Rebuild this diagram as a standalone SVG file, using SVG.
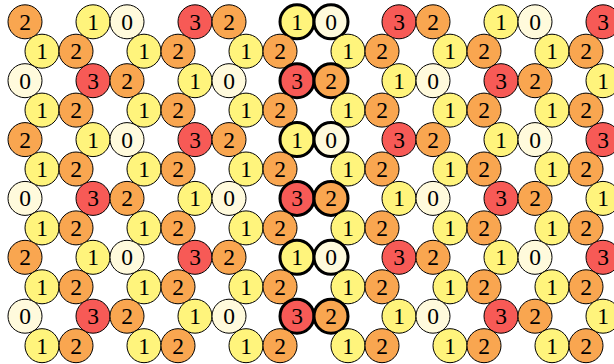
<svg xmlns="http://www.w3.org/2000/svg" width="614" height="364" viewBox="0 0 614 364">
<style>
circle{stroke:#000;stroke-width:1}
.b circle{stroke-width:3}
text{font-family:"Liberation Serif","DejaVu Serif",serif;font-size:23.5px;text-anchor:middle;fill:#000}
.c0 circle{fill:#fffadc}
.c1 circle{fill:#fff47c}
.c2 circle{fill:#f9a650}
.c3 circle{fill:#f75a56}
</style>
<rect width="614" height="364" fill="#fff"/>
<g id="connectors"></g>
<g id="nodes">
<!-- row 0 -->
<g id="n0_25" class="c2" transform="translate(25,21.8)"><circle r="17"/><text y="8">2</text></g>
<g id="n0_93" class="c1" transform="translate(93,21.8)"><circle r="17"/><text y="8">1</text></g>
<g id="n0_127" class="c0" transform="translate(127,21.8)"><circle r="17"/><text y="8">0</text></g>
<g id="n0_195" class="c3" transform="translate(195,21.8)"><circle r="17"/><text y="8">3</text></g>
<g id="n0_229" class="c2" transform="translate(229,21.8)"><circle r="17"/><text y="8">2</text></g>
<g id="n0_297" class="c1 b" transform="translate(297,21.8)"><circle r="17"/><text y="8">1</text></g>
<g id="n0_331" class="c0 b" transform="translate(331,21.8)"><circle r="17"/><text y="8">0</text></g>
<g id="n0_399" class="c3" transform="translate(399,21.8)"><circle r="17"/><text y="8">3</text></g>
<g id="n0_433" class="c2" transform="translate(433,21.8)"><circle r="17"/><text y="8">2</text></g>
<g id="n0_501" class="c1" transform="translate(501,21.8)"><circle r="17"/><text y="8">1</text></g>
<g id="n0_535" class="c0" transform="translate(535,21.8)"><circle r="17"/><text y="8">0</text></g>
<g id="n0_603" class="c3" transform="translate(603,21.8)"><circle r="17"/><text y="8">3</text></g>
<!-- row 1 -->
<g id="n1_42" class="c1" transform="translate(42,51.2)"><circle r="17"/><text y="8">1</text></g>
<g id="n1_76" class="c2" transform="translate(76,51.2)"><circle r="17"/><text y="8">2</text></g>
<g id="n1_144" class="c1" transform="translate(144,51.2)"><circle r="17"/><text y="8">1</text></g>
<g id="n1_178" class="c2" transform="translate(178,51.2)"><circle r="17"/><text y="8">2</text></g>
<g id="n1_246" class="c1" transform="translate(246,51.2)"><circle r="17"/><text y="8">1</text></g>
<g id="n1_280" class="c2" transform="translate(280,51.2)"><circle r="17"/><text y="8">2</text></g>
<g id="n1_348" class="c1" transform="translate(348,51.2)"><circle r="17"/><text y="8">1</text></g>
<g id="n1_382" class="c2" transform="translate(382,51.2)"><circle r="17"/><text y="8">2</text></g>
<g id="n1_450" class="c1" transform="translate(450,51.2)"><circle r="17"/><text y="8">1</text></g>
<g id="n1_484" class="c2" transform="translate(484,51.2)"><circle r="17"/><text y="8">2</text></g>
<g id="n1_552" class="c1" transform="translate(552,51.2)"><circle r="17"/><text y="8">1</text></g>
<g id="n1_586" class="c2" transform="translate(586,51.2)"><circle r="17"/><text y="8">2</text></g>
<!-- row 2 -->
<g id="n2_25" class="c0" transform="translate(25,80.7)"><circle r="17"/><text y="8">0</text></g>
<g id="n2_93" class="c3" transform="translate(93,80.7)"><circle r="17"/><text y="8">3</text></g>
<g id="n2_127" class="c2" transform="translate(127,80.7)"><circle r="17"/><text y="8">2</text></g>
<g id="n2_195" class="c1" transform="translate(195,80.7)"><circle r="17"/><text y="8">1</text></g>
<g id="n2_229" class="c0" transform="translate(229,80.7)"><circle r="17"/><text y="8">0</text></g>
<g id="n2_297" class="c3 b" transform="translate(297,80.7)"><circle r="17"/><text y="8">3</text></g>
<g id="n2_331" class="c2 b" transform="translate(331,80.7)"><circle r="17"/><text y="8">2</text></g>
<g id="n2_399" class="c1" transform="translate(399,80.7)"><circle r="17"/><text y="8">1</text></g>
<g id="n2_433" class="c0" transform="translate(433,80.7)"><circle r="17"/><text y="8">0</text></g>
<g id="n2_501" class="c3" transform="translate(501,80.7)"><circle r="17"/><text y="8">3</text></g>
<g id="n2_535" class="c2" transform="translate(535,80.7)"><circle r="17"/><text y="8">2</text></g>
<g id="n2_603" class="c1" transform="translate(603,80.7)"><circle r="17"/><text y="8">1</text></g>
<!-- row 3 -->
<g id="n3_42" class="c1" transform="translate(42,110.1)"><circle r="17"/><text y="8">1</text></g>
<g id="n3_76" class="c2" transform="translate(76,110.1)"><circle r="17"/><text y="8">2</text></g>
<g id="n3_144" class="c1" transform="translate(144,110.1)"><circle r="17"/><text y="8">1</text></g>
<g id="n3_178" class="c2" transform="translate(178,110.1)"><circle r="17"/><text y="8">2</text></g>
<g id="n3_246" class="c1" transform="translate(246,110.1)"><circle r="17"/><text y="8">1</text></g>
<g id="n3_280" class="c2" transform="translate(280,110.1)"><circle r="17"/><text y="8">2</text></g>
<g id="n3_348" class="c1" transform="translate(348,110.1)"><circle r="17"/><text y="8">1</text></g>
<g id="n3_382" class="c2" transform="translate(382,110.1)"><circle r="17"/><text y="8">2</text></g>
<g id="n3_450" class="c1" transform="translate(450,110.1)"><circle r="17"/><text y="8">1</text></g>
<g id="n3_484" class="c2" transform="translate(484,110.1)"><circle r="17"/><text y="8">2</text></g>
<g id="n3_552" class="c1" transform="translate(552,110.1)"><circle r="17"/><text y="8">1</text></g>
<g id="n3_586" class="c2" transform="translate(586,110.1)"><circle r="17"/><text y="8">2</text></g>
<!-- row 4 -->
<g id="n4_25" class="c2" transform="translate(25,139.6)"><circle r="17"/><text y="8">2</text></g>
<g id="n4_93" class="c1" transform="translate(93,139.6)"><circle r="17"/><text y="8">1</text></g>
<g id="n4_127" class="c0" transform="translate(127,139.6)"><circle r="17"/><text y="8">0</text></g>
<g id="n4_195" class="c3" transform="translate(195,139.6)"><circle r="17"/><text y="8">3</text></g>
<g id="n4_229" class="c2" transform="translate(229,139.6)"><circle r="17"/><text y="8">2</text></g>
<g id="n4_297" class="c1 b" transform="translate(297,139.6)"><circle r="17"/><text y="8">1</text></g>
<g id="n4_331" class="c0 b" transform="translate(331,139.6)"><circle r="17"/><text y="8">0</text></g>
<g id="n4_399" class="c3" transform="translate(399,139.6)"><circle r="17"/><text y="8">3</text></g>
<g id="n4_433" class="c2" transform="translate(433,139.6)"><circle r="17"/><text y="8">2</text></g>
<g id="n4_501" class="c1" transform="translate(501,139.6)"><circle r="17"/><text y="8">1</text></g>
<g id="n4_535" class="c0" transform="translate(535,139.6)"><circle r="17"/><text y="8">0</text></g>
<g id="n4_603" class="c3" transform="translate(603,139.6)"><circle r="17"/><text y="8">3</text></g>
<!-- row 5 -->
<g id="n5_42" class="c1" transform="translate(42,169)"><circle r="17"/><text y="8">1</text></g>
<g id="n5_76" class="c2" transform="translate(76,169)"><circle r="17"/><text y="8">2</text></g>
<g id="n5_144" class="c1" transform="translate(144,169)"><circle r="17"/><text y="8">1</text></g>
<g id="n5_178" class="c2" transform="translate(178,169)"><circle r="17"/><text y="8">2</text></g>
<g id="n5_246" class="c1" transform="translate(246,169)"><circle r="17"/><text y="8">1</text></g>
<g id="n5_280" class="c2" transform="translate(280,169)"><circle r="17"/><text y="8">2</text></g>
<g id="n5_348" class="c1" transform="translate(348,169)"><circle r="17"/><text y="8">1</text></g>
<g id="n5_382" class="c2" transform="translate(382,169)"><circle r="17"/><text y="8">2</text></g>
<g id="n5_450" class="c1" transform="translate(450,169)"><circle r="17"/><text y="8">1</text></g>
<g id="n5_484" class="c2" transform="translate(484,169)"><circle r="17"/><text y="8">2</text></g>
<g id="n5_552" class="c1" transform="translate(552,169)"><circle r="17"/><text y="8">1</text></g>
<g id="n5_586" class="c2" transform="translate(586,169)"><circle r="17"/><text y="8">2</text></g>
<!-- row 6 -->
<g id="n6_25" class="c0" transform="translate(25,198.4)"><circle r="17"/><text y="8">0</text></g>
<g id="n6_93" class="c3" transform="translate(93,198.4)"><circle r="17"/><text y="8">3</text></g>
<g id="n6_127" class="c2" transform="translate(127,198.4)"><circle r="17"/><text y="8">2</text></g>
<g id="n6_195" class="c1" transform="translate(195,198.4)"><circle r="17"/><text y="8">1</text></g>
<g id="n6_229" class="c0" transform="translate(229,198.4)"><circle r="17"/><text y="8">0</text></g>
<g id="n6_297" class="c3 b" transform="translate(297,198.4)"><circle r="17"/><text y="8">3</text></g>
<g id="n6_331" class="c2 b" transform="translate(331,198.4)"><circle r="17"/><text y="8">2</text></g>
<g id="n6_399" class="c1" transform="translate(399,198.4)"><circle r="17"/><text y="8">1</text></g>
<g id="n6_433" class="c0" transform="translate(433,198.4)"><circle r="17"/><text y="8">0</text></g>
<g id="n6_501" class="c3" transform="translate(501,198.4)"><circle r="17"/><text y="8">3</text></g>
<g id="n6_535" class="c2" transform="translate(535,198.4)"><circle r="17"/><text y="8">2</text></g>
<g id="n6_603" class="c1" transform="translate(603,198.4)"><circle r="17"/><text y="8">1</text></g>
<!-- row 7 -->
<g id="n7_42" class="c1" transform="translate(42,227.9)"><circle r="17"/><text y="8">1</text></g>
<g id="n7_76" class="c2" transform="translate(76,227.9)"><circle r="17"/><text y="8">2</text></g>
<g id="n7_144" class="c1" transform="translate(144,227.9)"><circle r="17"/><text y="8">1</text></g>
<g id="n7_178" class="c2" transform="translate(178,227.9)"><circle r="17"/><text y="8">2</text></g>
<g id="n7_246" class="c1" transform="translate(246,227.9)"><circle r="17"/><text y="8">1</text></g>
<g id="n7_280" class="c2" transform="translate(280,227.9)"><circle r="17"/><text y="8">2</text></g>
<g id="n7_348" class="c1" transform="translate(348,227.9)"><circle r="17"/><text y="8">1</text></g>
<g id="n7_382" class="c2" transform="translate(382,227.9)"><circle r="17"/><text y="8">2</text></g>
<g id="n7_450" class="c1" transform="translate(450,227.9)"><circle r="17"/><text y="8">1</text></g>
<g id="n7_484" class="c2" transform="translate(484,227.9)"><circle r="17"/><text y="8">2</text></g>
<g id="n7_552" class="c1" transform="translate(552,227.9)"><circle r="17"/><text y="8">1</text></g>
<g id="n7_586" class="c2" transform="translate(586,227.9)"><circle r="17"/><text y="8">2</text></g>
<!-- row 8 -->
<g id="n8_25" class="c2" transform="translate(25,257.3)"><circle r="17"/><text y="8">2</text></g>
<g id="n8_93" class="c1" transform="translate(93,257.3)"><circle r="17"/><text y="8">1</text></g>
<g id="n8_127" class="c0" transform="translate(127,257.3)"><circle r="17"/><text y="8">0</text></g>
<g id="n8_195" class="c3" transform="translate(195,257.3)"><circle r="17"/><text y="8">3</text></g>
<g id="n8_229" class="c2" transform="translate(229,257.3)"><circle r="17"/><text y="8">2</text></g>
<g id="n8_297" class="c1 b" transform="translate(297,257.3)"><circle r="17"/><text y="8">1</text></g>
<g id="n8_331" class="c0 b" transform="translate(331,257.3)"><circle r="17"/><text y="8">0</text></g>
<g id="n8_399" class="c3" transform="translate(399,257.3)"><circle r="17"/><text y="8">3</text></g>
<g id="n8_433" class="c2" transform="translate(433,257.3)"><circle r="17"/><text y="8">2</text></g>
<g id="n8_501" class="c1" transform="translate(501,257.3)"><circle r="17"/><text y="8">1</text></g>
<g id="n8_535" class="c0" transform="translate(535,257.3)"><circle r="17"/><text y="8">0</text></g>
<g id="n8_603" class="c3" transform="translate(603,257.3)"><circle r="17"/><text y="8">3</text></g>
<!-- row 9 -->
<g id="n9_42" class="c1" transform="translate(42,286.8)"><circle r="17"/><text y="8">1</text></g>
<g id="n9_76" class="c2" transform="translate(76,286.8)"><circle r="17"/><text y="8">2</text></g>
<g id="n9_144" class="c1" transform="translate(144,286.8)"><circle r="17"/><text y="8">1</text></g>
<g id="n9_178" class="c2" transform="translate(178,286.8)"><circle r="17"/><text y="8">2</text></g>
<g id="n9_246" class="c1" transform="translate(246,286.8)"><circle r="17"/><text y="8">1</text></g>
<g id="n9_280" class="c2" transform="translate(280,286.8)"><circle r="17"/><text y="8">2</text></g>
<g id="n9_348" class="c1" transform="translate(348,286.8)"><circle r="17"/><text y="8">1</text></g>
<g id="n9_382" class="c2" transform="translate(382,286.8)"><circle r="17"/><text y="8">2</text></g>
<g id="n9_450" class="c1" transform="translate(450,286.8)"><circle r="17"/><text y="8">1</text></g>
<g id="n9_484" class="c2" transform="translate(484,286.8)"><circle r="17"/><text y="8">2</text></g>
<g id="n9_552" class="c1" transform="translate(552,286.8)"><circle r="17"/><text y="8">1</text></g>
<g id="n9_586" class="c2" transform="translate(586,286.8)"><circle r="17"/><text y="8">2</text></g>
<!-- row 10 -->
<g id="n10_25" class="c0" transform="translate(25,316.2)"><circle r="17"/><text y="8">0</text></g>
<g id="n10_93" class="c3" transform="translate(93,316.2)"><circle r="17"/><text y="8">3</text></g>
<g id="n10_127" class="c2" transform="translate(127,316.2)"><circle r="17"/><text y="8">2</text></g>
<g id="n10_195" class="c1" transform="translate(195,316.2)"><circle r="17"/><text y="8">1</text></g>
<g id="n10_229" class="c0" transform="translate(229,316.2)"><circle r="17"/><text y="8">0</text></g>
<g id="n10_297" class="c3 b" transform="translate(297,316.2)"><circle r="17"/><text y="8">3</text></g>
<g id="n10_331" class="c2 b" transform="translate(331,316.2)"><circle r="17"/><text y="8">2</text></g>
<g id="n10_399" class="c1" transform="translate(399,316.2)"><circle r="17"/><text y="8">1</text></g>
<g id="n10_433" class="c0" transform="translate(433,316.2)"><circle r="17"/><text y="8">0</text></g>
<g id="n10_501" class="c3" transform="translate(501,316.2)"><circle r="17"/><text y="8">3</text></g>
<g id="n10_535" class="c2" transform="translate(535,316.2)"><circle r="17"/><text y="8">2</text></g>
<g id="n10_603" class="c1" transform="translate(603,316.2)"><circle r="17"/><text y="8">1</text></g>
<!-- row 11 -->
<g id="n11_42" class="c1" transform="translate(42,345.7)"><circle r="17"/><text y="8">1</text></g>
<g id="n11_76" class="c2" transform="translate(76,345.7)"><circle r="17"/><text y="8">2</text></g>
<g id="n11_144" class="c1" transform="translate(144,345.7)"><circle r="17"/><text y="8">1</text></g>
<g id="n11_178" class="c2" transform="translate(178,345.7)"><circle r="17"/><text y="8">2</text></g>
<g id="n11_246" class="c1" transform="translate(246,345.7)"><circle r="17"/><text y="8">1</text></g>
<g id="n11_280" class="c2" transform="translate(280,345.7)"><circle r="17"/><text y="8">2</text></g>
<g id="n11_348" class="c1" transform="translate(348,345.7)"><circle r="17"/><text y="8">1</text></g>
<g id="n11_382" class="c2" transform="translate(382,345.7)"><circle r="17"/><text y="8">2</text></g>
<g id="n11_450" class="c1" transform="translate(450,345.7)"><circle r="17"/><text y="8">1</text></g>
<g id="n11_484" class="c2" transform="translate(484,345.7)"><circle r="17"/><text y="8">2</text></g>
<g id="n11_552" class="c1" transform="translate(552,345.7)"><circle r="17"/><text y="8">1</text></g>
<g id="n11_586" class="c2" transform="translate(586,345.7)"><circle r="17"/><text y="8">2</text></g>
</g>
</svg>
